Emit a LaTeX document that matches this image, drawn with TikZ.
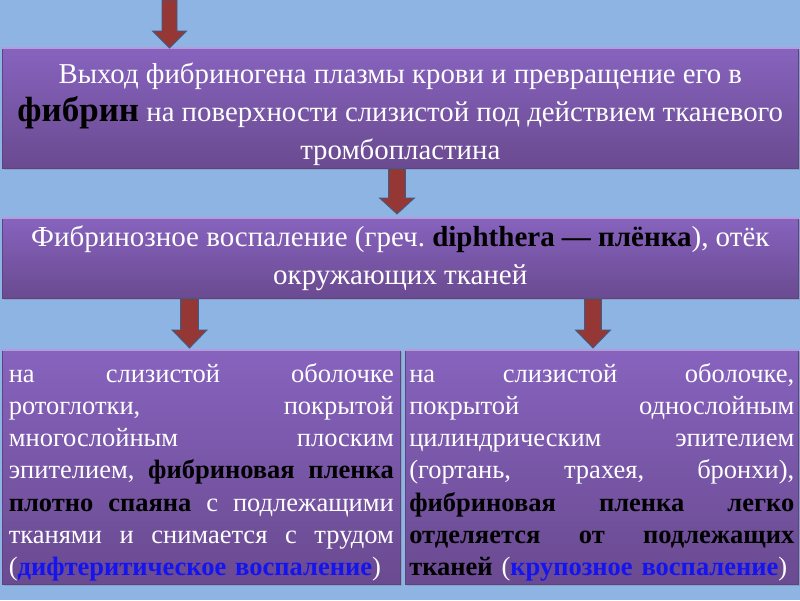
\documentclass[tikz,border=0pt]{standalone}
\usepackage{fontspec}
\setmainfont{Liberation Serif}
\usetikzlibrary{calc,shadows}
\definecolor{bg}{HTML}{8DB4E2}
\definecolor{ptop}{HTML}{8763BE}
\definecolor{pbot}{HTML}{6A4A90}
\definecolor{pedge}{HTML}{5E4383}
\definecolor{phl}{HTML}{B49BDE}
\definecolor{arrfill}{HTML}{953735}
\definecolor{arredge}{HTML}{3A5E8C}
\definecolor{tblue}{HTML}{1414F0}
\tikzset{
  pbox/.style={rectangle, top color=ptop, bottom color=pbot, draw=pedge, line width=0.6pt,
    drop shadow={shadow xshift=1.5pt, shadow yshift=-2pt, opacity=0.35},
    inner sep=0pt, text=white, anchor=north west},
  arrowsty/.style={fill=arrfill, draw=arredge, line width=0.8pt, line join=miter},
  hlline/.style={draw=phl, line width=1.6pt}
}
\newcommand\barrow[5]{\filldraw[arrowsty] let \p1=(#1), \p2=(#2) in
  (\x1-#3pt,\y1) -- (\x1+#3pt,\y1) -- (\x1+#3pt,\y2+#5pt) -- (\x1+#4pt,\y2+#5pt) --
  (\x1,\y2) -- (\x1-#4pt,\y2+#5pt) -- (\x1-#3pt,\y2+#5pt) -- cycle;}
\newcommand\jl[1]{\leavevmode\hbox to 385pt{#1}}
\newcommand\bk[1]{{\bfseries\color{black}#1}}
\begin{document}
\begin{tikzpicture}[x=1pt,y=-1pt]
\fill[bg] (0,0) rectangle (800,600);
\useasboundingbox (0,0) rectangle (800,600);

\node[pbox, minimum width=796pt, minimum height=120pt, align=center,
  font=\fontsize{28.8}{38}\selectfont] (b1) at (2,48)
  {\rule{0pt}{32pt}Выход фибриногена плазмы крови и превращение его в\\
   {\fontsize{35}{38}\selectfont\bk{фибрин}} на поверхности слизистой под действием тканевого\\
   тромбопластина};

\node[pbox, minimum width=796pt, minimum height=80pt, align=center,
  font=\fontsize{29}{37.5}\selectfont] (b2) at (2,218)
  {Фибринозное воспаление (греч.\ \bk{diphthera — плёнка}), отёк\\
   окружающих тканей};

\node[pbox, minimum width=398pt, minimum height=234pt, text width=385pt, align=left,
  font=\fontsize{26.5}{32.3}\selectfont] (b3) at (2,350)
  {\jl{\rule{0pt}{29pt}на\hfill слизистой\hfill оболочке}\\
   \jl{ротоглотки,\hfill покрытой}\\
   \jl{многослойным\hfill плоским}\\
   \jl{эпителием,\hfill\bk{фибриновая\hfill пленка}}\\
   \jl{\bk{плотно\hfill спаяна}\hfill с\hfill подлежащими}\\
   \jl{тканями\hfill и\hfill снимается\hfill с\hfill трудом}\\
   \mbox{(\textcolor{tblue}{\bfseries дифтеритическое воспаление})}};

\node[pbox, minimum width=393pt, minimum height=234pt, text width=385pt, align=left,
  font=\fontsize{26.5}{32.3}\selectfont] (b4) at (405,350)
  {\jl{\rule{0pt}{29pt}на\hfill слизистой\hfill оболочке,}\\
   \jl{покрытой\hfill однослойным}\\
   \jl{цилиндрическим\hfill эпителием}\\
   \jl{(гортань,\hfill трахея,\hfill бронхи),}\\
   \jl{\bfseries\color{black}фибриновая\hfill пленка\hfill легко}\\
   \jl{\bfseries\color{black}отделяется\hfill от\hfill подлежащих}\\
   \mbox{\bk{тканей} (\textcolor{tblue}{\bfseries крупозное воспаление})}};

\foreach \b in {b1,b2,b3,b4} \draw[hlline] (\b.north west) -- (\b.north east);

\coordinate (s0) at (169.5,0);
\coordinate (x2) at (397,0);
\coordinate (x3) at (189.5,0);
\coordinate (x4) at (593,0);
\coordinate (t2) at ($(x2 |- b2.north)+(0,-4)$);
\coordinate (t3) at ($(x3 |- b3.north)+(0,-2)$);
\coordinate (t4) at ($(x4 |- b4.north)+(0,-2)$);

\barrow{s0}{s0 |- b1.north}{7.5}{17}{17}
\barrow{x2 |- b1.south}{t2}{8.5}{17.5}{16}
\barrow{x3 |- b2.south}{t3}{9}{17.5}{18}
\barrow{x4 |- b2.south}{t4}{8.5}{17.5}{18}
\end{tikzpicture}
\end{document}
